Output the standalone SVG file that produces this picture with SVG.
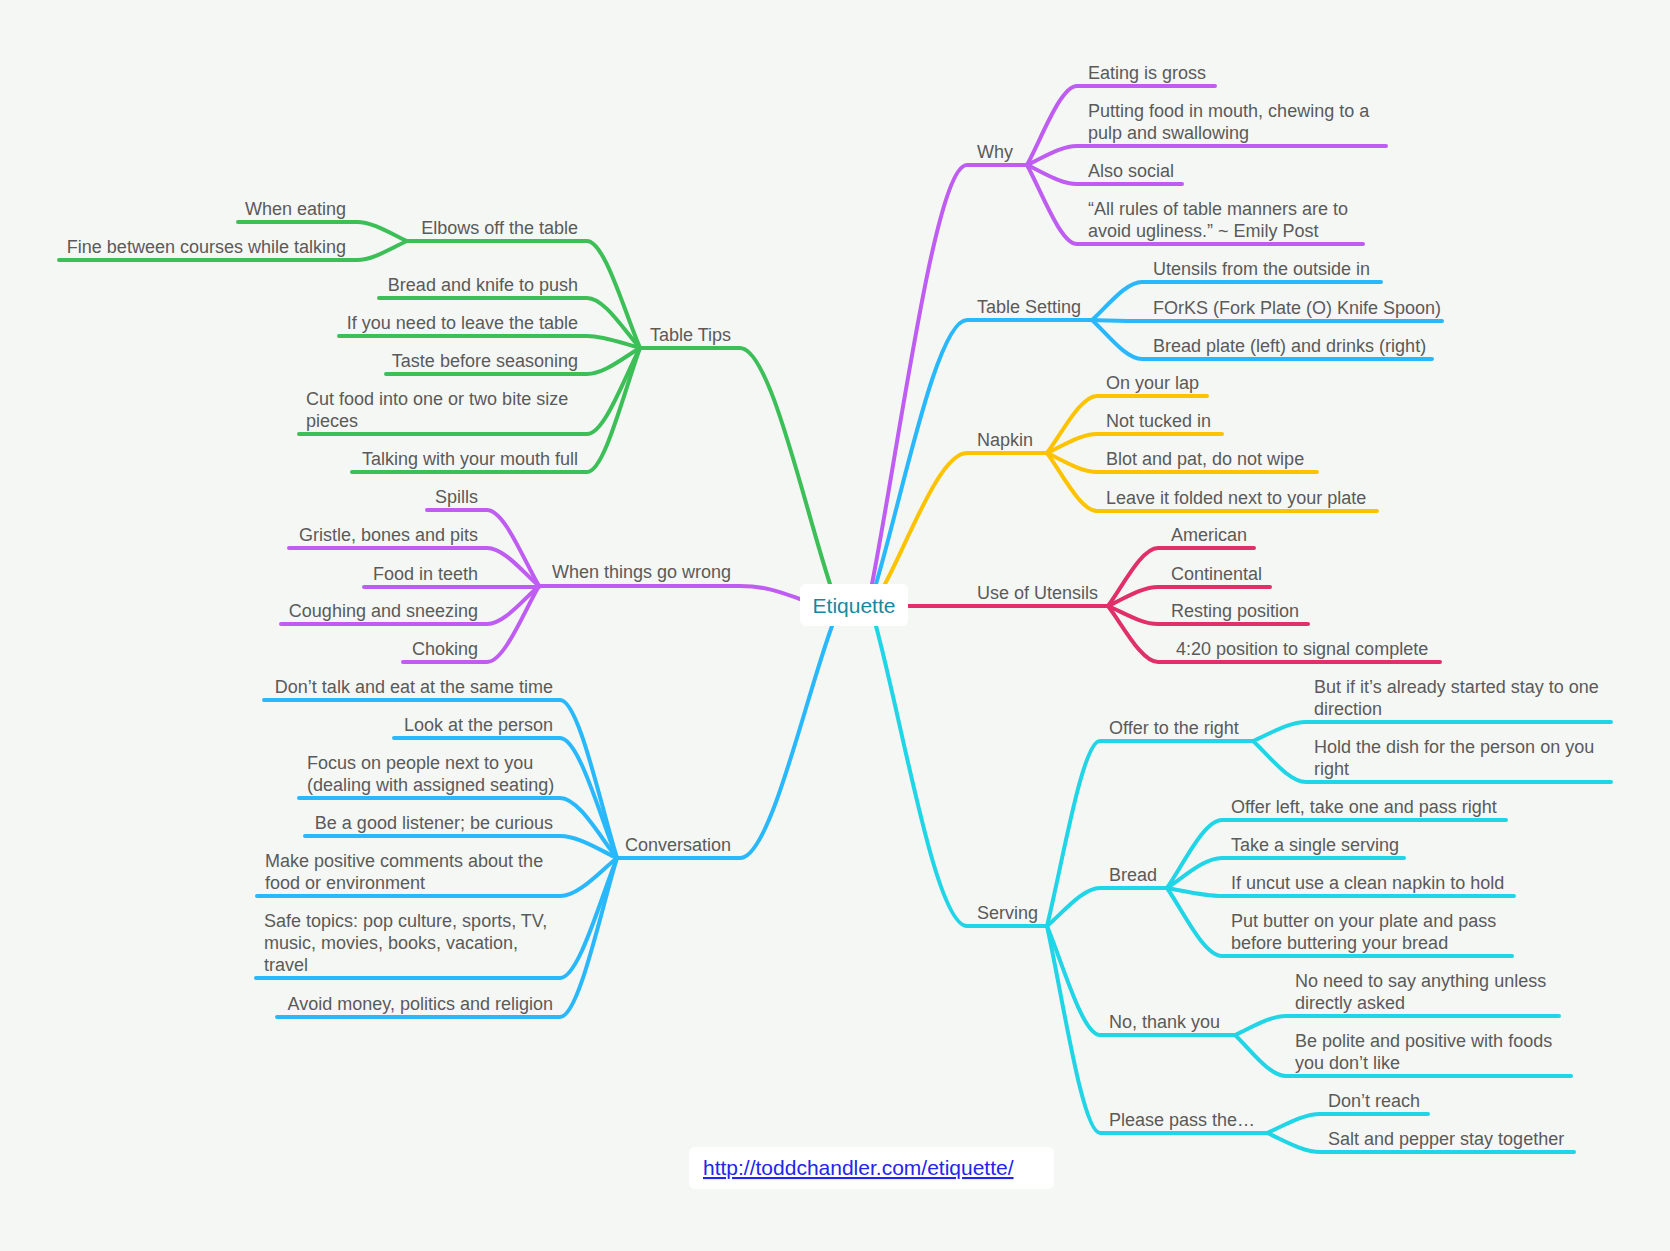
<svg xmlns="http://www.w3.org/2000/svg" width="1670" height="1251" viewBox="0 0 1670 1251">
<style>
text{font-family:"Liberation Sans",Arial,Helvetica,sans-serif;font-size:18px;fill:#5a5a5a}
.e{text-anchor:end}
.c path{fill:none;stroke-width:4;stroke-linecap:round;stroke-linejoin:round}
.g{stroke:#3dbf58}.p{stroke:#bf5cf2}.b{stroke:#28b8fb}.y{stroke:#fdc300}.r{stroke:#e0306b}.t{stroke:#1fd5e6}
.root{font-size:21px;fill:#17889f;text-anchor:middle}
.link{font-size:21px;fill:#2424ee;text-decoration:underline}
</style>
<rect x="0" y="0" width="1670" height="1251" fill="#f5f7f4"/>
<g id="connectors" class="c">
<!-- Table Tips -->
<path class="g" d="M640 348 H740 C770 348 803 502 830 584"/>
<path class="g" d="M407 241 H587 C604.5 241 624 310.5 640 348"/>
<path class="g" d="M379 298 H587 C604.5 298 624 330.5 640 348"/>
<path class="g" d="M339 336 H587 C604.5 336 624 343.8 640 348"/>
<path class="g" d="M386 374 H587 C604.5 374 624 357.1 640 348"/>
<path class="g" d="M299 434 H587 C604.5 434 624 378.1 640 348"/>
<path class="g" d="M352 472 H587 C604.5 472 624 391.4 640 348"/>
<path class="g" d="M238 222 H357 C373.5 222 392 234.4 407 241"/>
<path class="g" d="M59 260 H357 C373.5 260 392 247.6 407 241"/>
<!-- When things go wrong -->
<path class="p" d="M539 586 H740 C765 586 780 592 800 599"/>
<path class="p" d="M427 510 H487 C504.2 510 523.4 559.4 539 586"/>
<path class="p" d="M289 548 H487 C504.2 548 523.4 572.7 539 586"/>
<path class="p" d="M364 587 H539"/>
<path class="p" d="M281 624 H487 C504.2 624 523.4 599.3 539 586"/>
<path class="p" d="M403 662 H487 C504.2 662 523.4 612.6 539 586"/>
<!-- Conversation -->
<path class="b" d="M617 858 H740 C770 858 803 706 832 626"/>
<path class="b" d="M264 700 H560 C578.8 700 599.9 802.7 617 858"/>
<path class="b" d="M394 738 H560 C578.8 738 599.9 816 617 858"/>
<path class="b" d="M299 798 H560 C578.8 798 599.9 837 617 858"/>
<path class="b" d="M305 836 H560 C578.8 836 599.9 850.3 617 858"/>
<path class="b" d="M257 896 H560 C578.8 896 599.9 871.3 617 858"/>
<path class="b" d="M256 978 H560 C578.8 978 599.9 900 617 858"/>
<path class="b" d="M277 1017 H560 C578.8 1017 599.9 913.7 617 858"/>
<!-- Why -->
<path class="p" d="M872 584 C900.5 437.3 935.6 165 967 165 H1027"/>
<path class="p" d="M1027 165 C1042 137.35 1060.5 86 1077 86 H1215"/>
<path class="p" d="M1027 165 C1042 158.35 1060.5 146 1077 146 H1386"/>
<path class="p" d="M1027 165 C1042 171.65 1060.5 184 1077 184 H1182"/>
<path class="p" d="M1027 165 C1042 192.65 1060.5 244 1077 244 H1363"/>
<!-- Table Setting -->
<path class="b" d="M876 584 C903.3 491.6 937 320 967 320 H1092"/>
<path class="b" d="M1092 320 C1107 306.7 1125.5 282 1142 282 H1381"/>
<path class="b" d="M1092 320 C1107 320.3 1125.5 321 1142 321 H1442"/>
<path class="b" d="M1092 320 C1107 333.65 1125.5 359 1142 359 H1432"/>
<!-- Napkin -->
<path class="y" d="M885 584 C909.6 538.1 940 453 967 453 H1047"/>
<path class="y" d="M1047 453 C1062 433.05 1080.5 396 1097 396 H1207"/>
<path class="y" d="M1047 453 C1062 446.35 1080.5 434 1097 434 H1222"/>
<path class="y" d="M1047 453 C1062 459.65 1080.5 472 1097 472 H1317"/>
<path class="y" d="M1047 453 C1062 473.3 1080.5 511 1097 511 H1377"/>
<!-- Use of Utensils -->
<path class="r" d="M908 606 H1108"/>
<path class="r" d="M1108 606 C1123 585.7 1141.5 548 1158 548 H1254"/>
<path class="r" d="M1108 606 C1123 599.35 1141.5 587 1158 587 H1270"/>
<path class="r" d="M1108 606 C1123 612.3 1141.5 624 1158 624 H1308"/>
<path class="r" d="M1108 606 C1123 625.6 1141.5 662 1158 662 H1440"/>
<!-- Serving -->
<path class="t" d="M876 626 C904.2 731 936 926 967 926 H1047"/>
<path class="t" d="M1047 926 C1062.9 861.25 1082.5 741 1100 741 H1253"/>
<path class="t" d="M1047 926 C1062.9 912.7 1082.5 888 1100 888 H1167"/>
<path class="t" d="M1047 926 C1062.9 964.15 1082.5 1035 1100 1035 H1235"/>
<path class="t" d="M1047 926 C1062.9 998.45 1082.5 1133 1100 1133 H1267"/>
<path class="t" d="M1253 741 C1268.9 734.35 1288.5 722 1306 722 H1611"/>
<path class="t" d="M1253 741 C1268.9 755.35 1288.5 782 1306 782 H1611"/>
<path class="t" d="M1167 888 C1183.5 864.2 1203.9 820 1222 820 H1506"/>
<path class="t" d="M1167 888 C1183.5 877.5 1203.9 858 1222 858 H1404"/>
<path class="t" d="M1167 888 C1183.5 890.8 1203.9 896 1222 896 H1514"/>
<path class="t" d="M1167 888 C1183.5 911.8 1203.9 956 1222 956 H1512"/>
<path class="t" d="M1235 1035 C1250.3 1028.35 1269.2 1016 1286 1016 H1559"/>
<path class="t" d="M1235 1035 C1250.3 1049.35 1269.2 1076 1286 1076 H1571"/>
<path class="t" d="M1267 1133 C1282.9 1126.35 1302.5 1114 1320 1114 H1428"/>
<path class="t" d="M1267 1133 C1282.9 1139.65 1302.5 1152 1320 1152 H1574"/>
</g>
<g id="root"><rect x="800" y="584" width="108" height="42" rx="6" fill="#ffffff"/><text class="root" x="854" y="613">Etiquette</text></g>
<g id="table-tips"><text class="e" x="731" y="341">Table Tips</text></g>
<g id="elbows"><text class="e" x="578" y="234">Elbows off the table</text></g>
<g id="when-eating"><text class="e" x="346" y="215">When eating</text></g>
<g id="fine-between"><text class="e" x="346" y="253">Fine between courses while talking</text></g>
<g id="bread-knife"><text class="e" x="578" y="291">Bread and knife to push</text></g>
<g id="leave-table"><text class="e" x="578" y="329">If you need to leave the table</text></g>
<g id="taste"><text class="e" x="578" y="367">Taste before seasoning</text></g>
<g id="cut-food"><text x="306" y="405">Cut food into one or two bite size</text><text x="306" y="427">pieces</text></g>
<g id="talking"><text class="e" x="578" y="465">Talking with your mouth full</text></g>
<g id="wrong"><text class="e" x="731" y="578">When things go wrong</text></g>
<g id="spills"><text class="e" x="478" y="503">Spills</text></g>
<g id="gristle"><text class="e" x="478" y="541">Gristle, bones and pits</text></g>
<g id="teeth"><text class="e" x="478" y="580">Food in teeth</text></g>
<g id="coughing"><text class="e" x="478" y="617">Coughing and sneezing</text></g>
<g id="choking"><text class="e" x="478" y="655">Choking</text></g>
<g id="conversation"><text class="e" x="731" y="851">Conversation</text></g>
<g id="dont-talk"><text class="e" x="553" y="693">Don’t talk and eat at the same time</text></g>
<g id="look"><text class="e" x="553" y="731">Look at the person</text></g>
<g id="focus"><text x="307" y="769">Focus on people next to you</text><text x="307" y="791">(dealing with assigned seating)</text></g>
<g id="listener"><text class="e" x="553" y="829">Be a good listener; be curious</text></g>
<g id="positive"><text x="265" y="867">Make positive comments about the</text><text x="265" y="889">food or environment</text></g>
<g id="safe"><text x="264" y="927">Safe topics: pop culture, sports, TV,</text><text x="264" y="949">music, movies, books, vacation,</text><text x="264" y="971">travel</text></g>
<g id="avoid"><text class="e" x="553" y="1010">Avoid money, politics and religion</text></g>
<g id="why"><text x="977" y="158">Why</text></g>
<g id="gross"><text x="1088" y="79">Eating is gross</text></g>
<g id="putting"><text x="1088" y="117">Putting food in mouth, chewing to a</text><text x="1088" y="139">pulp and swallowing</text></g>
<g id="social"><text x="1088" y="177">Also social</text></g>
<g id="rules"><text x="1088" y="215">“All rules of table manners are to</text><text x="1088" y="237">avoid ugliness.” ~ Emily Post</text></g>
<g id="table-setting"><text x="977" y="313">Table Setting</text></g>
<g id="outside-in"><text x="1153" y="275">Utensils from the outside in</text></g>
<g id="forks"><text x="1153" y="314">FOrKS (Fork Plate (O) Knife Spoon)</text></g>
<g id="bread-plate"><text x="1153" y="352">Bread plate (left) and drinks (right)</text></g>
<g id="napkin"><text x="977" y="446">Napkin</text></g>
<g id="lap"><text x="1106" y="389">On your lap</text></g>
<g id="tucked"><text x="1106" y="427">Not tucked in</text></g>
<g id="blot"><text x="1106" y="465">Blot and pat, do not wipe</text></g>
<g id="folded"><text x="1106" y="504">Leave it folded next to your plate</text></g>
<g id="utensils"><text x="977" y="599">Use of Utensils</text></g>
<g id="american"><text x="1171" y="541">American</text></g>
<g id="continental"><text x="1171" y="580">Continental</text></g>
<g id="resting"><text x="1171" y="617">Resting position</text></g>
<g id="four-twenty"><text x="1176" y="655">4:20 position to signal complete</text></g>
<g id="serving"><text x="977" y="919">Serving</text></g>
<g id="offer-right"><text x="1109" y="734">Offer to the right</text></g>
<g id="already"><text x="1314" y="693">But if it’s already started stay to one</text><text x="1314" y="715">direction</text></g>
<g id="hold"><text x="1314" y="753">Hold the dish for the person on you</text><text x="1314" y="775">right</text></g>
<g id="bread"><text x="1109" y="881">Bread</text></g>
<g id="offer-left"><text x="1231" y="813">Offer left, take one and pass right</text></g>
<g id="single"><text x="1231" y="851">Take a single serving</text></g>
<g id="uncut"><text x="1231" y="889">If uncut use a clean napkin to hold</text></g>
<g id="butter"><text x="1231" y="927">Put butter on your plate and pass</text><text x="1231" y="949">before buttering your bread</text></g>
<g id="no-thanks"><text x="1109" y="1028">No, thank you</text></g>
<g id="no-need"><text x="1295" y="987">No need to say anything unless</text><text x="1295" y="1009">directly asked</text></g>
<g id="polite"><text x="1295" y="1047">Be polite and positive with foods</text><text x="1295" y="1069">you don’t like</text></g>
<g id="please-pass"><text x="1109" y="1126">Please pass the…</text></g>
<g id="reach"><text x="1328" y="1107">Don’t reach</text></g>
<g id="salt"><text x="1328" y="1145">Salt and pepper stay together</text></g>
<g id="link"><rect x="689" y="1147" width="365" height="42" rx="6" fill="#ffffff"/><text class="link" x="703" y="1175">http://toddchandler.com/etiquette/</text></g>
</svg>
